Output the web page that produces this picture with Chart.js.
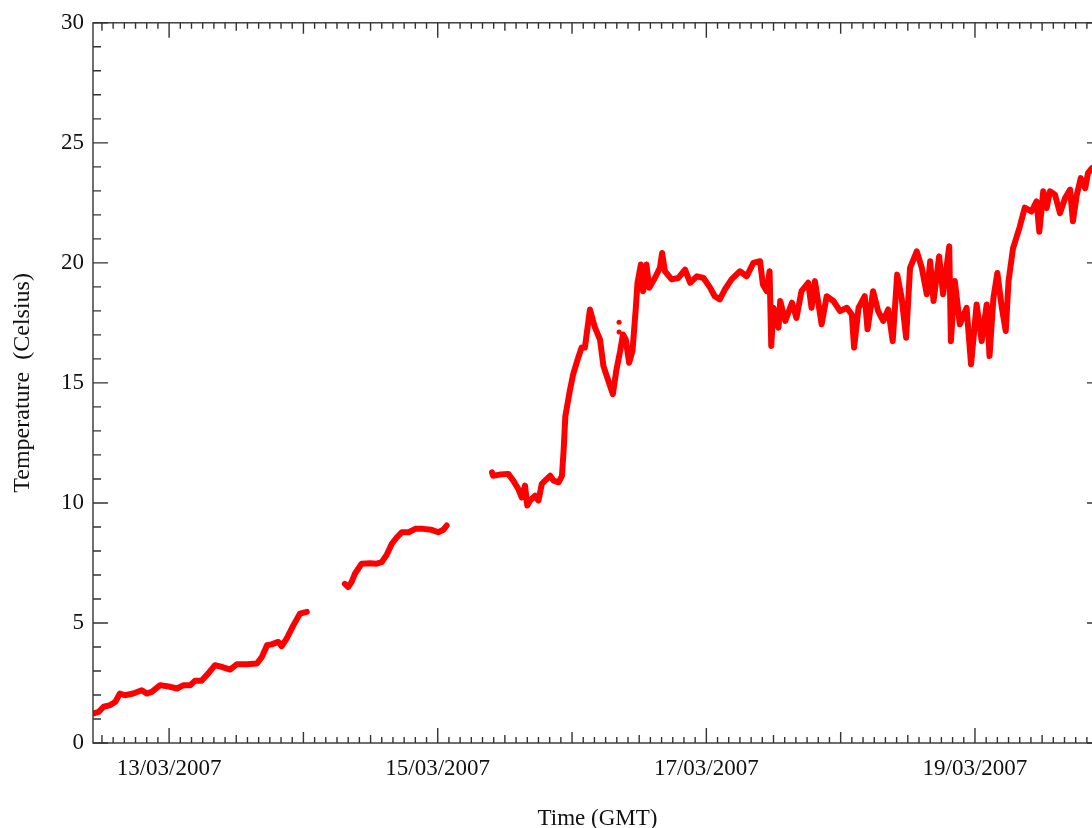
<!DOCTYPE html>
<html>
<head>
<meta charset="utf-8">
<script src="https://cdn.jsdelivr.net/npm/chart.js@4.4.1/dist/chart.umd.min.js"></script>
<style>
  html, body { margin: 0; padding: 0; background: #fff; overflow: hidden; }
  #wrap { width: 1115px; height: 828px; }
</style>
</head>
<body>
<div id="wrap"><canvas id="myChart" width="1115" height="828"></canvas></div>
<script>
// time = hours since 12/03/2007 00:00 GMT, temp = Celsius
const seg1Time = [10.5, 11.4, 12.3, 13.5, 14.4, 15.2, 16.1, 17.6, 19.1, 20.0, 20.9, 22.4, 24.2, 25.4, 26.6, 27.8,
  28.6, 29.8, 31.0, 32.2, 33.4, 34.9, 36.1, 37.9, 39.7, 40.6, 41.5, 42.3, 43.5, 44.1, 45.0, 46.2, 47.4, 48.6];
const seg1Temp = [1.23, 1.30, 1.51, 1.58, 1.72, 2.06, 1.99, 2.06, 2.20, 2.06, 2.13, 2.41, 2.34, 2.27, 2.41, 2.41,
  2.59, 2.59, 2.90, 3.24, 3.17, 3.06, 3.28, 3.28, 3.31, 3.59, 4.07, 4.11, 4.21, 4.03, 4.35, 4.90, 5.39, 5.46];

const seg2Time = [55.4, 56.0, 56.6, 57.2, 58.4, 59.9, 61.1, 62.0, 62.9, 63.8, 64.7, 65.6, 66.8, 68.0, 69.4, 70.9, 72.1, 73.0, 73.6];
const seg2Temp = [6.63, 6.50, 6.70, 7.05, 7.47, 7.49, 7.47, 7.53, 7.85, 8.30, 8.57, 8.78, 8.78, 8.92, 8.92, 8.88, 8.78, 8.88, 9.06];

const seg3Time = [81.7, 81.9, 83.1, 84.6, 85.5, 86.4, 87.0, 87.6, 88.0, 88.5, 89.4, 90.0, 90.6, 91.5, 92.1, 92.7, 93.6, 94.2,
  94.5, 94.8, 95.6, 96.2, 97.1, 97.7, 98.3, 99.2, 100.1, 101.0, 101.6, 102.5, 103.3, 103.9, 104.6, 105.1, 105.6, 106.2,
  106.8, 107.4, 107.7, 108.3, 108.7, 109.3, 109.8, 110.8, 111.7, 112.1, 112.6, 113.8, 115.0, 116.2, 117.1, 118.3, 119.5,
  120.7, 121.5, 122.4, 123.3, 124.5, 126.0, 127.2, 128.4, 129.6, 130.1, 130.8, 131.3, 131.6, 132.0, 132.9, 133.2, 134.1,
  135.3, 136.1, 137.0, 138.2, 138.8, 139.4, 140.6, 141.5, 142.7, 143.9, 145.1, 146.0, 146.4, 147.2, 148.3, 148.8, 149.8,
  150.7, 151.6, 152.5, 153.3, 154.1, 154.9, 155.7, 156.4, 157.6, 158.5, 159.4, 160.0, 160.6, 161.6, 162.3, 163.4, 163.7,
  164.4, 165.3, 166.5, 167.3, 168.3, 169.2, 170.1, 170.6, 171.3, 172.0, 172.8, 173.5, 174.0, 174.8, 176.0, 176.9, 178.1,
  179.0, 179.5, 180.2, 180.8, 181.4, 182.3, 183.2, 184.1, 185.0, 185.5, 186.2, 186.9, 187.7, 188.2, 188.9, 190.5];
const seg3Temp = [11.27, 11.13, 11.18, 11.21, 10.93, 10.58, 10.23, 10.72, 9.89, 10.10, 10.30, 10.10, 10.79, 11.00, 11.13, 10.93, 10.86, 11.13,
  12.2, 13.6, 14.67, 15.36, 16.05, 16.47, 16.47, 18.06, 17.30, 16.81, 15.71, 15.08, 14.53, 15.50, 16.33, 17.02, 16.81, 15.84,
  16.33, 18.13, 19.17, 19.93, 18.82, 19.93, 18.96, 19.37, 19.79, 20.41, 19.65, 19.31, 19.37, 19.72, 19.17, 19.44, 19.37,
  18.96, 18.61, 18.48, 18.89, 19.31, 19.65, 19.44, 20.00, 20.07, 19.10, 18.82, 19.65, 16.54, 18.13, 17.30, 18.41, 17.58,
  18.34, 17.71, 18.82, 19.17, 18.13, 19.24, 17.44, 18.61, 18.41, 17.99, 18.13, 17.85, 16.47, 18.13, 18.61, 17.23, 18.82,
  17.99, 17.58, 18.06, 16.74, 19.51, 18.54, 16.88, 19.79, 20.48, 19.79, 18.69, 20.07, 18.41, 20.27, 18.69, 20.69, 16.74,
  19.24, 17.44, 18.13, 15.78, 18.27, 16.74, 18.27, 16.12, 18.54, 19.58, 18.13, 17.16, 19.24, 20.6, 21.5, 22.3, 22.14,
  22.56, 21.3, 22.98, 22.28, 22.98, 22.84, 22.07, 22.70, 23.05, 21.73, 22.84, 23.53, 23.11, 23.74, 23.95, 24.1];

// isolated readings above the curve on 16/03
const strayTime = [104.4, 104.4];
const strayTemp = [17.53, 17.12];

const yTicks = [0, 5, 10, 15, 20, 25, 30];
const xTicks = [24, 72, 120, 168]; // 13, 15, 17, 19 March
const xMin = 10.4, xMax = 190.7;

const pts = (t, v) => t.map((h, i) => ({x: h, y: v[i]}));

const serif = 'Liberation Serif';

// inward tick marks on all four sides plus the frame
const frameTicks = {
  id: 'frameTicks',
  afterDatasetsDraw(chart) {
    const {ctx, chartArea: a, scales: {x, y}} = chart;
    ctx.save();
    ctx.strokeStyle = '#333';
    ctx.lineWidth = 1.4;
    ctx.beginPath();
    for (let v = 0; v <= 30; v++) {
      const py = y.getPixelForValue(v);
      const len = v % 5 === 0 ? 15 : 8;
      ctx.moveTo(a.left, py); ctx.lineTo(a.left + len, py);
      ctx.moveTo(a.right, py); ctx.lineTo(a.right - len, py);
    }
    for (let h = Math.ceil(xMin / 2) * 2; h <= xMax; h += 2) {
      const px = x.getPixelForValue(h);
      let len = 6;
      if (h % 48 === 24) len = 15;
      else if (h % 24 === 0) len = 11;
      else if (h % 12 === 0) len = 8;
      ctx.moveTo(px, a.bottom); ctx.lineTo(px, a.bottom - len);
      ctx.moveTo(px, a.top); ctx.lineTo(px, a.top + len);
    }
    ctx.stroke();
    ctx.strokeRect(a.left, a.top, a.right - a.left, a.bottom - a.top);
    ctx.restore();
  }
};

const lineStyle = {
  borderColor: '#ff0000',
  borderWidth: 6,
  pointRadius: 0,
  tension: 0,
  borderJoinStyle: 'round',
  borderCapStyle: 'round'
};

new Chart(document.getElementById('myChart'), {
  type: 'line',
  data: {
    datasets: [
      {label: 'seg1', data: pts(seg1Time, seg1Temp), ...lineStyle},
      {label: 'seg2', data: pts(seg2Time, seg2Temp), ...lineStyle},
      {label: 'seg3', data: pts(seg3Time, seg3Temp), ...lineStyle},
      {label: 'stray', data: pts(strayTime, strayTemp), showLine: false,
        pointRadius: 2.5, pointBackgroundColor: '#ff0000', pointBorderWidth: 0}
    ]
  },
  options: {
    responsive: false,
    animation: false,
    layout: {padding: {left: 8, top: 21, right: 13, bottom: 0}},
    plugins: {legend: {display: false}, tooltip: {enabled: false}},
    scales: {
      x: {
        type: 'linear',
        min: xMin,
        max: xMax,
        grid: {display: false, drawTicks: false},
        border: {display: false},
        afterBuildTicks: s => { s.ticks = xTicks.map(v => ({value: v})); },
        afterFit: s => { s.height = 85; },
        ticks: {
          autoSkip: false,
          maxRotation: 0,
          padding: 12,
          color: '#111',
          font: {family: serif, size: 23},
          callback: v => String(12 + v / 24).padStart(2, '0') + '/03/2007'
        },
        title: {display: true, text: 'Time (GMT)', color: '#111', padding: {top: 0, bottom: -5},
          font: {family: serif, size: 23}}
      },
      y: {
        min: 0,
        max: 30,
        grid: {display: false, drawTicks: false},
        border: {display: false},
        afterBuildTicks: s => { s.ticks = yTicks.map(v => ({value: v})); },
        afterFit: s => { s.width = 85; },
        ticks: {padding: 9, color: '#111', font: {family: serif, size: 23}},
        title: {display: true, text: 'Temperature  (Celsius)', color: '#111', padding: 0,
          font: {family: serif, size: 24}}
      }
    }
  },
  plugins: [frameTicks]
});
</script>
</body>
</html>
